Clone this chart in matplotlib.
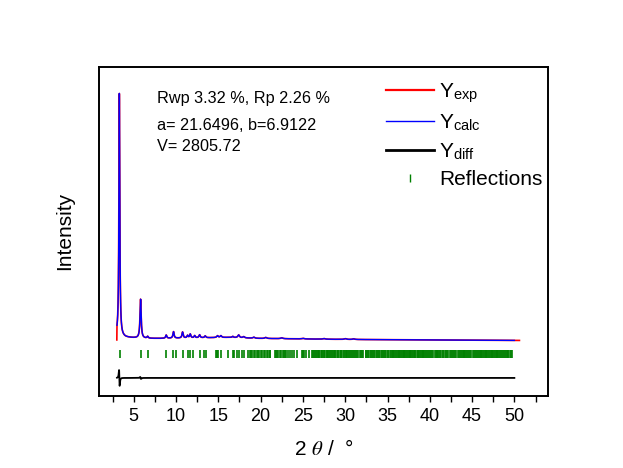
import numpy as np
import matplotlib
matplotlib.use("Agg")
import matplotlib.pyplot as plt
from matplotlib.lines import Line2D

plt.rcParams.update({
    "font.family": "Liberation Sans",
    "mathtext.fontset": "stix",
})

# Data

# peak list: 2theta, height above background (counts), half width
peak_pos = [3.30, 5.81, 6.64, 8.84, 9.70, 10.77, 11.36, 11.68, 12.20, 12.78,
            13.45, 14.90, 15.30, 16.70, 17.40, 18.00, 19.20, 20.60, 22.50,
            25.00, 27.50, 30.00, 31.00]
peak_h = [2430, 390, 18, 32, 65, 60, 25, 38, 22, 30,
          18, 18, 18, 12, 28, 12, 10, 10, 8,
          6, 6, 8, 6]
peak_w = [0.060, 0.080, 0.08, 0.08, 0.08, 0.08, 0.08, 0.08, 0.08, 0.09,
          0.09, 0.10, 0.10, 0.10, 0.12, 0.12, 0.12, 0.14, 0.15,
          0.15, 0.15, 0.15, 0.15]
# small offset of measured peaks vs calculated ones
exp_shift = [-0.003, -0.003, 0, 0, 0, 0, 0, 0, 0, 0,
             0, 0, 0, 0, 0, 0, 0, 0, 0,
             0, 0, 0, 0]

bg_x = [3.0, 4.0, 6.0, 8.0, 12.0, 16.0, 20.0, 25.0, 30.0, 40.0, 50.6]
bg_y = [600, 585, 575, 575, 580, 585, 575, 570, 565, 560, 555]

exp_first = (3.00, 560)
diff_offset = 180

refl = [
    3.32, 5.80, 6.64, 8.84, 9.70, 9.98, 10.77, 11.36, 11.60, 11.95, 12.78,
    13.33, 13.57, 14.72, 14.85, 14.95, 15.34, 16.13, 16.68, 16.91, 17.19,
    17.50, 17.80, 17.98,
    18.52, 18.70, 18.85, 19.02, 19.20, 19.35, 19.52, 19.70, 19.85, 20.02,
    20.20, 20.38, 20.55, 20.70, 20.88, 21.05, 21.12,
    21.72, 21.85, 21.98, 22.10, 22.30, 22.45, 22.60, 22.72, 22.90, 23.05,
    23.25, 23.45, 23.70, 23.95, 24.35,
    24.90, 25.00, 25.15, 25.40, 25.75,
    26.06, 26.15, 26.30, 26.40, 26.50, 26.62, 26.75, 26.85, 26.95, 27.10,
    27.20, 27.30, 27.45, 27.55, 27.65, 27.80, 27.90, 28.00, 28.10, 28.20,
    28.30, 28.40, 28.50, 28.62, 28.75, 28.85, 29.00, 29.10, 29.20, 29.35,
    29.45, 29.55, 29.65, 29.80, 29.90, 30.05, 30.15, 30.25, 30.35, 30.45,
    30.60, 30.70, 30.80, 30.95, 31.05, 31.20, 31.30, 31.45, 31.55, 31.70,
    31.85, 31.95, 32.10,
    32.40, 32.50, 32.65, 32.75, 32.90, 33.00, 33.15, 33.25, 33.40, 33.55,
    33.70, 33.80, 33.95, 34.05, 34.20, 34.35, 34.45, 34.60, 34.70, 34.85,
    35.00, 35.10,
    35.30, 35.40, 35.50, 35.60, 35.70, 35.80, 35.90, 36.00, 36.10, 36.20,
    36.30, 36.40, 36.50, 36.60, 36.70, 36.80, 36.90, 37.00, 37.10, 37.20,
    37.30, 37.40, 37.50, 37.60, 37.70, 37.80, 37.90, 38.00, 38.10, 38.20,
    38.30, 38.45, 38.55, 38.65, 38.75, 38.85, 38.95, 39.05, 39.15, 39.25,
    39.35, 39.45, 39.55, 39.65, 39.75, 39.85,
    40.05, 40.15, 40.30, 40.40, 40.60, 40.70, 40.80, 40.90, 41.00, 41.10,
    41.20, 41.35, 41.50, 41.60, 41.75, 41.90, 42.00, 42.20, 42.35, 42.50,
    42.60, 42.75, 42.90, 43.00, 43.15, 43.30, 43.40,
    43.60, 43.70, 43.80, 43.90, 44.00, 44.10, 44.20, 44.30, 44.40, 44.50,
    44.65, 44.80, 44.90, 45.05, 45.20, 45.30, 45.45, 45.60, 45.70, 45.80,
    45.90, 46.00, 46.10, 46.20, 46.30, 46.40, 46.50, 46.60, 46.70, 46.80,
    46.90, 47.00, 47.10, 47.20, 47.30, 47.40, 47.50, 47.60, 47.70, 47.80,
    47.90, 48.00, 48.10, 48.20, 48.30, 48.40, 48.50, 48.60, 48.75, 48.90,
    49.00, 49.10, 49.20, 49.30, 49.45, 49.55, 49.70,
]


# Profiles


def profile(x, shifts):
    y = np.interp(x, bg_x, bg_y)
    for p, h, w, s in zip(peak_pos, peak_h, peak_w, shifts):
        y = y + h / (1 + ((x - p - s) / w) ** 2)
    return y


x_exp = np.arange(3.01, 50.6, 0.005)
y_exp = profile(x_exp, exp_shift)
x_exp = np.concatenate([[exp_first[0]], x_exp])
y_exp = np.concatenate([[exp_first[1]], y_exp])

x_calc = np.arange(3.02, 50.0, 0.005)
y_calc = profile(x_calc, [0] * len(peak_pos))
y_diff = profile(x_calc, exp_shift) - y_calc + diff_offset


# Plot


fig = plt.figure(figsize=(6.23, 4.68), dpi=100)
ax = fig.add_axes([0.159, 0.154, 0.721, 0.703])

ax.plot(x_exp, y_exp, color="red", lw=1.2)
ax.plot(x_calc, y_calc, color="blue", lw=1.0)
ax.plot(x_calc, y_diff, color="black", lw=1.3)
ax.vlines(refl, 380, 460, color="green", lw=1.2)

ax.set_xlim(0.9, 54)
ax.set_ylim(0, 3290)

ax.set_xticks(range(5, 55, 5))
ax.set_xticks(np.arange(2.5, 55, 5), minor=True)
ax.set_yticks([])
ax.tick_params(axis="x", which="both", direction="out", length=4,
               width=1, labelsize=13, pad=5)
for sp in ax.spines.values():
    sp.set_linewidth(1.4)

ax.set_xlabel("2 $\\theta$ /  °", fontsize=15)
ax.xaxis.set_label_coords(0.5, -0.13)
ax.set_ylabel("Intensity", fontsize=15)
ax.yaxis.set_label_coords(-0.056, 0.5)

ax.text(0.129, 0.903, "Rwp 3.32 %, Rp 2.26 %", transform=ax.transAxes,
        fontsize=11.7, va="center")
ax.text(0.129, 0.821, "a= 21.6496, b=6.9122", transform=ax.transAxes,
        fontsize=11.7, va="center")
ax.text(0.129, 0.757, "V= 2805.72", transform=ax.transAxes,
        fontsize=11.7, va="center")

handles = [
    Line2D([], [], color="red", lw=1.6),
    Line2D([], [], color="blue", lw=1.0),
    Line2D([], [], color="black", lw=2.0),
    Line2D([], [], color="green", marker="|", ls="none", markersize=6),
]
labels = ["Y$_{\\mathregular{exp}}$", "Y$_{\\mathregular{calc}}$",
          "Y$_{\\mathregular{diff}}$", "Reflections"]
ax.legend(handles, labels, loc="upper left", bbox_to_anchor=(0.639, 0.958),
          frameon=False, fontsize=15, handlelength=2.3, handletextpad=0.25,
          borderpad=0, borderaxespad=0, labelspacing=0.39)

fig.savefig("out.png", dpi=100)
